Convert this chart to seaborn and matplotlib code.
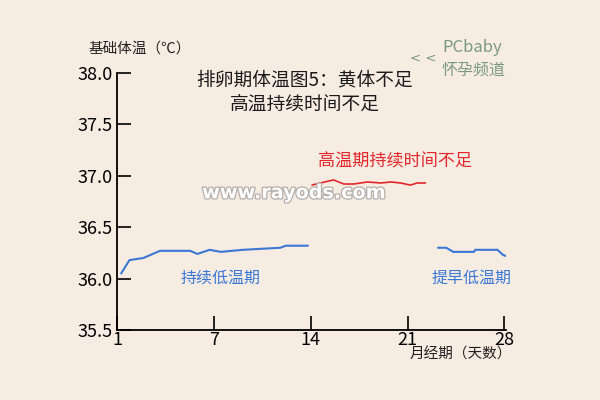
import matplotlib
matplotlib.use("Agg")
import matplotlib.pyplot as plt
import matplotlib.patheffects as pe
import seaborn as sns
import pandas as pd

# chart data (x = position on the day axis, tick "1" sits at 0)
low_days = [0.3, 0.9, 1.9, 3.1, 5.3, 5.8, 6.7, 7.5, 9.1, 11.8, 12.2, 13.8]
low_temps = [36.05, 36.18, 36.20, 36.27, 36.27, 36.24, 36.28, 36.26, 36.28, 36.30, 36.32, 36.32]
high_days = [14.1, 14.7, 15.65, 16.4, 17.1, 18.1, 19.06, 19.8, 20.5, 21.2, 21.7, 22.3]
high_temps = [36.91, 36.93, 36.96, 36.92, 36.92, 36.94, 36.93, 36.94, 36.93, 36.91, 36.93, 36.93]
late_days = [23.2, 23.8, 24.3, 25.8, 25.9, 27.5, 27.9, 28.3]
late_temps = [36.30, 36.30, 36.26, 36.26, 36.28, 36.28, 36.23, 36.21]

tick_pos = [0, 7, 14, 21, 28]
tick_labels = ["1", "7", "14", "21", "28"]
y_ticks = [35.5, 36.0, 36.5, 37.0, 37.5, 38.0]

BG = "#f7ece2"
BLUE = "#3b78d6"
RED = "#e3262c"

sns.set_theme(style="ticks")
plt.rcParams['font.family'] = ['Noto Sans CJK SC', 'DejaVu Sans']

fig = plt.figure(figsize=(6, 4), dpi=100, facecolor=BG)
ax = fig.add_axes([0.195, 0.175, 0.648, 0.6425], facecolor=BG)

df_low = pd.DataFrame({"day": low_days, "temp": low_temps})
df_high = pd.DataFrame({"day": high_days, "temp": high_temps})
df_late = pd.DataFrame({"day": late_days, "temp": late_temps})

sns.lineplot(data=df_low, x="day", y="temp", color=BLUE, lw=1.5, ax=ax, sort=False)
sns.lineplot(data=df_high, x="day", y="temp", color=RED, lw=1.2, ax=ax, sort=False)
sns.lineplot(data=df_late, x="day", y="temp", color=BLUE, lw=1.5, ax=ax, sort=False)

ax.set_xlim(0, 28.1)
ax.set_ylim(35.5, 38.0)
ax.set_xticks(tick_pos)
ax.set_xticklabels(tick_labels)
ax.set_yticks(y_ticks)
ax.set_yticklabels([f"{v:.1f}" for v in y_ticks])
ax.tick_params(direction="in", length=10, width=1.2, labelsize=13, colors="black", pad=3)
ax.tick_params(axis="x", pad=1)
ax.set_xlabel("")
ax.set_ylabel("")
sns.despine(ax=ax)
for s in ["left", "bottom"]:
    ax.spines[s].set_linewidth(1.3)
    ax.spines[s].set_color("black")

# texts
fig.text(0.147, 0.878, "基础体温（℃）", fontsize=10.5, color="#222222", va="center")
fig.text(0.683, 0.113, "月经期（天数）", fontsize=10.5, color="#222222", va="center")
fig.text(0.508, 0.77, "排卵期体温图5：黄体不足\n高温持续时间不足", fontsize=13.5,
         color="#1a1a1a", ha="center", va="center", linespacing=1.25)
ax.text(20.1, 37.14, "高温期持续时间不足", fontsize=12.3, color=RED, ha="center", va="center")
ax.text(7.5, 36.0, "持续低温期", fontsize=11.5, color=BLUE, ha="center", va="center")
ax.text(25.6, 36.0, "提早低温期", fontsize=11.5, color=BLUE, ha="center", va="center")

wm = fig.text(0.49, 0.518, "www.rayods.com", fontsize=13.8, fontweight="bold",
              family="DejaVu Sans", color="white", ha="center", va="center")
wm.set_path_effects([pe.withStroke(linewidth=1.8, foreground="#b3aeaa")])

fig.text(0.705, 0.855, "< <", fontsize=9.5, color="#7a9a80", ha="center", va="center",
         family="DejaVu Sans")
fig.text(0.738, 0.88, "PCbaby", fontsize=12, color="#7a9a80", ha="left", va="center")
fig.text(0.736, 0.825, "怀孕频道", fontsize=11.5, color="#7a9a80", ha="left", va="center")

fig.savefig("out.png", dpi=100, facecolor=BG)
